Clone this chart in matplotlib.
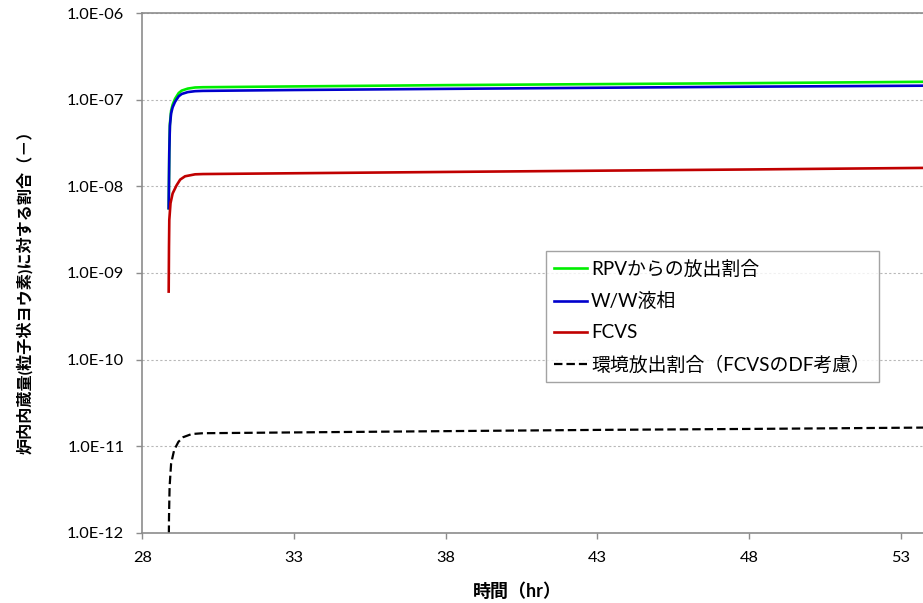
import numpy as np
import matplotlib.pyplot as plt
from matplotlib.ticker import FixedLocator, FuncFormatter, NullLocator

plt.rcParams['font.family'] = ['Lato', 'Noto Sans CJK JP', 'DejaVu Sans']

# time (hr)
t_rpv = [28.87, 28.89, 28.91, 28.95, 29.0, 29.08, 29.2, 29.3, 29.5, 29.74, 30.0, 33, 38, 43, 48, 54]
rpv = [5.6e-9, 2.6e-8, 5.3e-8, 7.5e-8, 8.8e-8, 1.03e-7, 1.2e-7, 1.28e-7, 1.35e-7, 1.39e-7,
       1.40e-7, 1.43e-7, 1.48e-7, 1.52e-7, 1.56e-7, 1.62e-7]

t_ww = [28.87, 28.89, 28.91, 28.95, 29.0, 29.08, 29.2, 29.3, 29.5, 29.74, 30.0, 33, 38, 43, 48, 54]
ww = [5.6e-9, 2.5e-8, 5.0e-8, 7.0e-8, 8.2e-8, 9.5e-8, 1.10e-7, 1.17e-7, 1.23e-7, 1.26e-7,
      1.27e-7, 1.30e-7, 1.34e-7, 1.38e-7, 1.42e-7, 1.46e-7]

t_fcvs = [28.87, 28.88, 28.89, 28.93, 29.0, 29.13, 29.25, 29.41, 29.74, 30.0, 33, 38, 43, 48, 54]
fcvs = [6.1e-10, 2.0e-9, 4.1e-9, 6.4e-9, 8.3e-9, 1.03e-8, 1.2e-8, 1.31e-8, 1.38e-8, 1.39e-8,
        1.42e-8, 1.47e-8, 1.52e-8, 1.57e-8, 1.64e-8]

t_env = [28.87, 28.88, 28.9, 28.95, 29.05, 29.19, 29.35, 29.63, 30.0, 33, 38, 43, 48, 54]
env = [5e-13, 1.5e-12, 3.4e-12, 6.3e-12, 9e-12, 1.12e-11, 1.27e-11, 1.38e-11, 1.41e-11,
       1.44e-11, 1.49e-11, 1.54e-11, 1.58e-11, 1.64e-11]

labels = ['RPVからの放出割合', 'W/W液相', 'FCVS', '環境放出割合（FCVSのDF考慮）']
xticks = [28, 33, 38, 43, 48, 53]
yticks = [1e-12, 1e-11, 1e-10, 1e-9, 1e-8, 1e-7, 1e-6]

fig = plt.figure(figsize=(9.23, 6.03), dpi=100)
ax = fig.add_axes([142.3 / 923, 1 - 532.7 / 603, 1 - 142.3 / 923, (532.7 - 13.3) / 603])

ax.plot(t_rpv, rpv, color='#00EE00', lw=1.9, label=labels[0])
ax.plot(t_ww, ww, color='#0000CC', lw=1.9, label=labels[1])
ax.plot(t_fcvs, fcvs, color='#C00000', lw=1.9, label=labels[2])
ax.plot(t_env, env, color='black', lw=1.6, dashes=(3.8, 1.8), label=labels[3])

ax.set_yscale('log')
ax.set_ylim(1e-12, 1e-6)
ax.set_xlim(28, 28 + (923 - 142.3) / 30.33)
ax.yaxis.set_major_locator(FixedLocator(yticks))
ax.yaxis.set_minor_locator(NullLocator())
ax.xaxis.set_major_locator(FixedLocator(xticks))
ax.yaxis.set_major_formatter(FuncFormatter(lambda v, p: '%.1E' % v))
ax.xaxis.set_major_formatter(FuncFormatter(lambda v, p: '%d' % v))

ax.grid(axis='y', color='#B8B8B8', lw=0.8, linestyle=(0, (2, 2)))
ax.set_axisbelow(True)
for s in ['left', 'bottom', 'top']:
    ax.spines[s].set_color('#8C8C8C')
    ax.spines[s].set_linewidth(1.2)
ax.spines['right'].set_visible(False)
ax.tick_params(axis='both', direction='out', length=4, width=1, color='#8C8C8C',
               labelsize=11.8, pad=9)

fig.text(25 / 923, 1 - 288 / 603, '炉内内蔵量(粒子状ヨウ素)に対する割合（－）', rotation=90,
         ha='center', va='center', fontsize=11.6, fontweight='bold')
fig.text(517 / 923, 1 - 591 / 603, '時間（hr）', ha='center', va='center',
         fontsize=13, fontweight='bold')

leg = ax.legend(loc='upper left', bbox_to_anchor=(545.7 / 923, 1 - 251 / 603),
                bbox_transform=fig.transFigure, fontsize=13.6, frameon=True, fancybox=False,
                handlelength=1.75, handletextpad=0.2, labelspacing=0.75, borderpad=0.45,
                borderaxespad=0)
leg.get_frame().set_edgecolor('#8C8C8C')
leg.get_frame().set_linewidth(1.0)

fig.savefig('out.png', dpi=100)
